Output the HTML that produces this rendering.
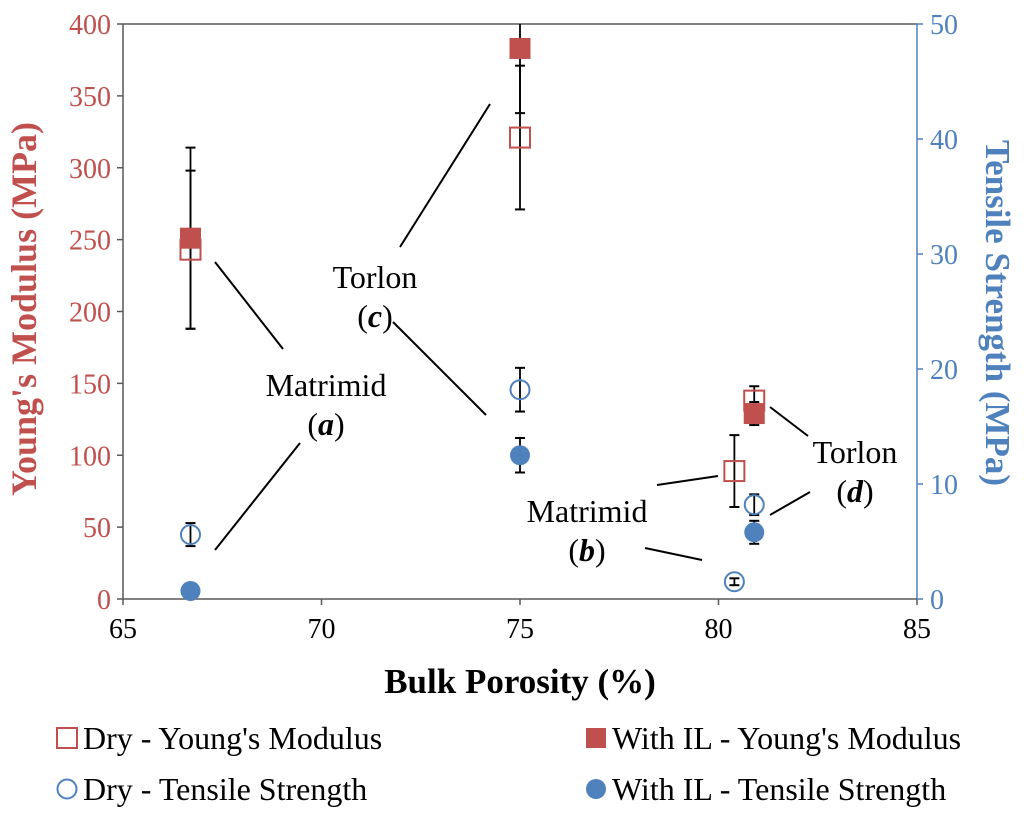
<!DOCTYPE html>
<html><head><meta charset="utf-8"><style>
body{margin:0;background:#fff;}
svg text{font-family:"Liberation Serif",serif;}
</style></head><body>
<svg id="chart" width="1024" height="813" xmlns="http://www.w3.org/2000/svg">
<g id="axes"></g><g id="marks"></g><g id="notes"></g><g id="legend"></g>
</svg>
<script>
const xTicks=[65,70,75,80,85];
const yLeftTicks=[0,50,100,150,200,250,300,350,400];
const yRightTicks=[0,10,20,30,40,50];
const dryYMx=[66.7,75,80.4,80.9];
const dryYM=[243,321,89,138];
const dryYMerr=[55,50,25,10];
const ilYMx=[66.7,75,80.9];
const ilYM=[251,383,129];
const ilYMerr=[63,45,8];
const dryTSx=[66.7,75,80.4,80.9];
const dryTS=[5.6,18.2,1.5,8.2];
const dryTSerr=[1,1.9,0.3,0.9];
const ilTSx=[66.7,75,80.9];
const ilTS=[0.7,12.5,5.8];
const ilTSerr=[0,1.5,1];
const RED="#C0504D",BLUE="#4F81BD";
const X0=123,X1=917,YT=24,YB=599;
const xs=v=>X0+(v-65)/20*(X1-X0);
const yl=v=>YB-v/400*(YB-YT);
const yr=v=>YB-v/50*(YB-YT);
const NS="http://www.w3.org/2000/svg";
function mk(parent,tag,attrs,text){const e=document.createElementNS(NS,tag);for(const k in attrs)e.setAttribute(k,attrs[k]);if(text!==undefined)e.textContent=text;document.getElementById(parent).appendChild(e);return e;}
let e;
e=mk('axes','line',{x1:X0,y1:YT,x2:X1,y2:YT,stroke:'#595959','stroke-width':1.5});

e=mk('axes','line',{x1:X0,y1:YT,x2:X0,y2:YB,stroke:'#595959','stroke-width':1.5});

e=mk('axes','line',{x1:X1,y1:YT,x2:X1,y2:YB,stroke:BLUE,'stroke-width':1.5});

e=mk('axes','line',{x1:X0,y1:YB,x2:X1,y2:YB,stroke:'#595959','stroke-width':1.5});

xTicks.forEach(t=>{
 e=mk('axes','line',{x1:xs(t),y1:YB,x2:xs(t),y2:YB+6,stroke:'#595959','stroke-width':1.5});
 
 e=mk('axes','text',{x:xs(t),y:YB+39,'text-anchor':'middle','font-size':28,fill:'#000'},t);
 
});
yLeftTicks.forEach(t=>{
 e=mk('axes','line',{x1:X0-6,y1:yl(t),x2:X0,y2:yl(t),stroke:'#595959','stroke-width':1.5});
 
 e=mk('axes','text',{x:X0-12,y:yl(t)+10,'text-anchor':'end','font-size':28,fill:RED},t);
 
});
yRightTicks.forEach(t=>{
 e=mk('axes','line',{x1:X1,y1:yr(t),x2:X1+6,y2:yr(t),stroke:BLUE,'stroke-width':1.5});
 
 e=mk('axes','text',{x:X1+13,y:yr(t)+10,'text-anchor':'start','font-size':28,fill:BLUE},t);
 
});
e=mk('axes','text',{x:520,y:693,'text-anchor':'middle','font-size':35,'font-weight':'bold',fill:'#000'},'Bulk Porosity (%)');

e=mk('axes','text',{transform:'translate(36,309) rotate(-90)','text-anchor':'middle','font-size':36,'font-weight':'bold',fill:RED},"Young's Modulus (MPa)");

e=mk('axes','text',{transform:'translate(986,313) rotate(90)','text-anchor':'middle','font-size':35,'font-weight':'bold',fill:BLUE},"Tensile Strength (MPa)");

function err(x,y0,y1){
 const top=Math.max(y1,YT);
 e=mk('marks','line',{x1:x,y1:top,x2:x,y2:y0,stroke:'#000','stroke-width':1.8});
 
 [y0,y1].forEach(yy=>{if(yy>=YT){e=mk('marks','line',{x1:x-5,y1:yy,x2:x+5,y2:yy,stroke:'#000','stroke-width':2});
 }});
}
dryYMx.forEach((x,i)=>err(xs(x),yl(dryYM[i]-dryYMerr[i]),yl(dryYM[i]+dryYMerr[i])));
ilYMx.forEach((x,i)=>err(xs(x),yl(ilYM[i]-ilYMerr[i]),yl(ilYM[i]+ilYMerr[i])));
dryTSx.forEach((x,i)=>err(xs(x),yr(dryTS[i]-dryTSerr[i]),yr(dryTS[i]+dryTSerr[i])));
ilTSx.forEach((x,i)=>{if(ilTSerr[i]>0)err(xs(x),yr(ilTS[i]-ilTSerr[i]),yr(ilTS[i]+ilTSerr[i]));});
dryYMx.forEach((x,i)=>{e=mk('marks','rect',{x:xs(x)-10,y:yl(dryYM[i])-10,width:20,height:20,fill:'none',stroke:RED,'stroke-width':2});
 });
ilYMx.forEach((x,i)=>{e=mk('marks','rect',{x:xs(x)-10,y:yl(ilYM[i])-10,width:20,height:20,fill:RED,stroke:RED,'stroke-width':1});
 });
dryTSx.forEach((x,i)=>{e=mk('marks','circle',{cx:xs(x),cy:yr(dryTS[i]),r:9.5,fill:'none',stroke:BLUE,'stroke-width':2});
 });
ilTSx.forEach((x,i)=>{e=mk('marks','circle',{cx:xs(x),cy:yr(ilTS[i]),r:10,fill:BLUE});
 });
[[215,262,283,349],[215,550,300,443],[400,247,490,104],[393,322,486,415],[657,485,718,476],[645,548,702,560],[770,407,808,436],[770,515,810,492]].forEach(l=>{
 e=mk('notes','line',{x1:l[0],y1:l[1],x2:l[2],y2:l[3],stroke:'#000','stroke-width':2});
 
});
function note(x,y,name,letter,dn){
 e=mk('notes','text',{x:x,y:y,'text-anchor':'middle','font-size':32},name);
 
 e=mk('notes','text',{x:x,y:y+39,'text-anchor':'middle','font-size':32});
 
 e.innerHTML='(<tspan font-style="italic" font-weight="bold">'+letter+'</tspan>)';
}
note(326,396,'Matrimid','a','matrimid-a');
note(375,288,'Torlon','c','torlon-c');
note(587,522,'Matrimid','b','matrimid-b');
note(855,463,'Torlon','d','torlon-d');
function leg(x,y,type,label,dn){
 if(type==='os'){e=mk('legend','rect',{x:x-10,y:y-10,width:20,height:20,fill:'none',stroke:RED,'stroke-width':2});}
 if(type==='fs'){e=mk('legend','rect',{x:x-10,y:y-10,width:20,height:20,fill:RED});}
 if(type==='oc'){e=mk('legend','circle',{cx:x,cy:y,r:9.5,fill:'none',stroke:BLUE,'stroke-width':2});}
 if(type==='fc'){e=mk('legend','circle',{cx:x,cy:y,r:10,fill:BLUE});}
 
 e=mk('legend','text',{x:x+16,y:y+11,'font-size':32},label);
 
}
leg(67,738,'os',"Dry - Young's Modulus",'legend-dry-youngs-modulus');
leg(596,738,'fs',"With IL - Young's Modulus",'legend-il-youngs-modulus');
leg(67,789,'oc',"Dry - Tensile Strength",'legend-dry-tensile-strength');
leg(596,789,'fc',"With IL - Tensile Strength",'legend-il-tensile-strength');
</script>
</body></html>
